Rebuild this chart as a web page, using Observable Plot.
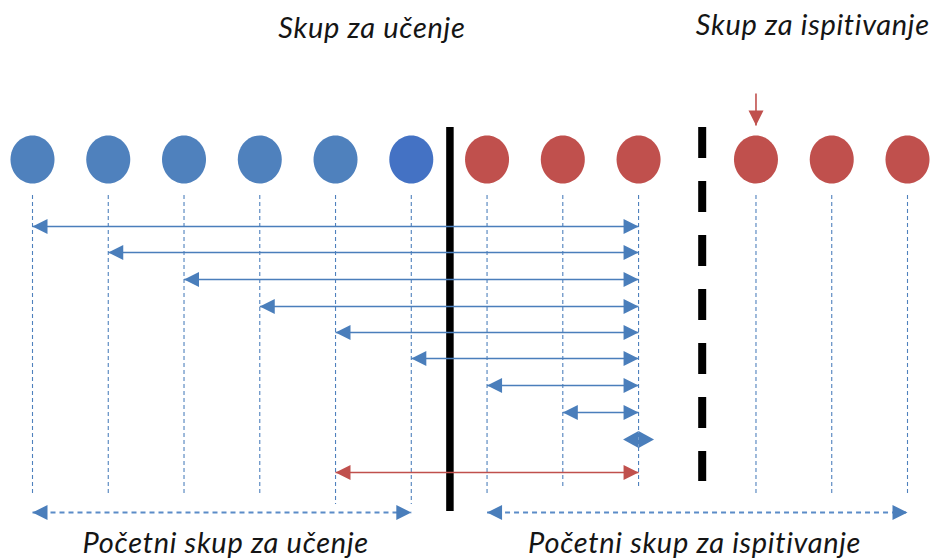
<!DOCTYPE html>
<html>
<head>
<meta charset="utf-8">
<script src="https://cdn.jsdelivr.net/npm/d3@7"></script>
<script src="https://cdn.jsdelivr.net/npm/@observablehq/plot@0.6"></script>
<style>
  html, body { margin: 0; padding: 0; background: #fff; }
  #chart svg { display: block; }
  #chart svg text { letter-spacing: 0.7px; }
</style>
</head>
<body>
<div id="chart"></div>
<script>
// ---- data ----
const slotX        = [0, 1, 2, 3, 4, 5, 6, 7, 8, 9.55, 10.55, 11.55];
const circleColor  = ["#4f81bd","#4f81bd","#4f81bd","#4f81bd","#4f81bd","#4472c4",
                      "#c0504d","#c0504d","#c0504d","#c0504d","#c0504d","#c0504d"];
const circleLevel  = 159;
const guideTop     = 195;
const guideEnd     = [493, 493, 493, 493, 504, 504, 494, 489, 489, 494, 494, 494];

const arrowFrom    = [0, 1, 2, 3, 4, 5, 6, 7, 8, 4];
const arrowTo      = [8, 8, 8, 8, 8, 8, 8, 8, 8, 8];
const arrowLevel   = [226, 252, 279, 306, 332, 358, 385, 412, 439, 472];
const arrowColor   = ["#4a7ebb","#4a7ebb","#4a7ebb","#4a7ebb","#4a7ebb",
                      "#4a7ebb","#4a7ebb","#4a7ebb","#4a7ebb","#c0504d"];

const spanFrom     = [0, 6];
const spanTo       = [5, 11.55];
const spanLevel    = [512, 512];

const dividerSlot  = [5.51, 8.84];
const dividerTop   = [127, 127];
const dividerEnd   = [511, 481];

const pointerSlot  = [9.55];
const pointerFrom  = [93];
const pointerTo    = [125];

const titleText    = ["Skup za učenje", "Skup za ispitivanje"];
const titleSlot    = [4.48, 10.3];
const titleLevel   = [37.5, 34.5];

const footerText   = ["Početni skup za učenje", "Početni skup za ispitivanje"];
const footerSlot   = [2.55, 8.74];
const footerLevel  = [552, 552];

// ---- tables ----
const circles  = slotX.map((x, i) => ({x, color: circleColor[i], y: circleLevel, y1: guideTop, y2: guideEnd[i]}));
const arrows   = arrowFrom.map((f, i) => ({from: slotX[f], to: slotX[arrowTo[i]], y: arrowLevel[i], color: arrowColor[i]}));
const spans    = spanFrom.map((f, i) => ({from: f, to: spanTo[i], y: spanLevel[i]}));
const pointers = pointerSlot.map((x, i) => ({x, y1: pointerFrom[i], y2: pointerTo[i]}));
const titles   = titleText.map((t, i) => ({t, x: titleSlot[i], y: titleLevel[i]}));
const footers  = footerText.map((t, i) => ({t, x: footerSlot[i], y: footerLevel[i]}));

const isZero = d => d.from === d.to;
const notZero = d => d.from !== d.to;

// ---- custom symbols ----
const ellipse = {draw(c) {
  const rx = 22, ry = 24, k = 0.5523;
  c.moveTo(rx, 0);
  c.bezierCurveTo(rx, ry * k, rx * k, ry, 0, ry);
  c.bezierCurveTo(-rx * k, ry, -rx, ry * k, -rx, 0);
  c.bezierCurveTo(-rx, -ry * k, -rx * k, -ry, 0, -ry);
  c.bezierCurveTo(rx * k, -ry, rx, -ry * k, rx, 0);
  c.closePath();
}};
const headRight = {draw(c) { c.moveTo(0, 0); c.lineTo(-15, -7.5); c.lineTo(-15, 7.5); c.closePath(); }};
const headLeft  = {draw(c) { c.moveTo(0, 0); c.lineTo(15, -7.5); c.lineTo(15, 7.5); c.closePath(); }};
const headDown  = {draw(c) { c.moveTo(0, 0); c.lineTo(-7.5, -15); c.lineTo(7.5, -15); c.closePath(); }};
// heads of a zero-length arrow turn outward and meet in a diamond
const diamondLeft  = {draw(c) { c.moveTo(0, -8.5); c.lineTo(-15.5, 0); c.lineTo(0, 8.5); c.closePath(); }};
const diamondRight = {draw(c) { c.moveTo(0, -8.5); c.lineTo(15.5, 0); c.lineTo(0, 8.5); c.closePath(); }};

const font = "Lato, 'Open Sans', sans-serif";

const chart = Plot.plot({
  width: 937,
  height: 559,
  margin: 0,
  x: {domain: [0, 11.55], range: [32, 907], axis: null},
  y: {domain: [0, 559], range: [0, 559], axis: null},
  color: {type: "identity"},
  style: {fontFamily: font, background: "#fff"},
  marks: [
    // vertical dashed guides
    Plot.ruleX(circles, {x: "x", y1: "y1", y2: "y2", stroke: "#4f81bd", strokeWidth: 1.1, strokeDasharray: "4,3"}),
    // dividers
    Plot.ruleX([0], {x: () => dividerSlot[0], y1: () => dividerTop[0], y2: () => dividerEnd[0], stroke: "#000", strokeWidth: 7.5}),
    Plot.ruleX([0], {x: () => dividerSlot[1], y1: () => dividerTop[1], y2: () => dividerEnd[1], stroke: "#000", strokeWidth: 8, strokeDasharray: "31,23"}),
    // circles
    Plot.dot(circles, {x: "x", y: "y", symbol: ellipse, fill: "color", stroke: "none"}),
    // arrows
    Plot.link(arrows, {filter: notZero, x1: "from", x2: "to", y1: "y", y2: "y", stroke: "color", strokeWidth: 1.6}),
    Plot.dot(arrows, {filter: notZero, x: "from", y: "y", symbol: headLeft, fill: "color", stroke: "none"}),
    Plot.dot(arrows, {filter: notZero, x: "to", y: "y", symbol: headRight, fill: "color", stroke: "none"}),
    Plot.dot(arrows, {filter: isZero, x: "from", y: "y", symbol: diamondLeft, fill: "color", stroke: "none"}),
    Plot.dot(arrows, {filter: isZero, x: "to", y: "y", symbol: diamondRight, fill: "color", stroke: "none"}),
    // bottom spans
    Plot.link(spans, {x1: "from", x2: "to", y1: "y", y2: "y", stroke: "#5b8cc8", strokeWidth: 1.8, strokeDasharray: "5,4"}),
    Plot.dot(spans, {x: "from", y: "y", symbol: headLeft, fill: "#4a7ebb", stroke: "none"}),
    Plot.dot(spans, {x: "to", y: "y", symbol: headRight, fill: "#4a7ebb", stroke: "none"}),
    // red pointer
    Plot.link(pointers, {x1: "x", x2: "x", y1: "y1", y2: "y2", stroke: "#c0504d", strokeWidth: 1.6}),
    Plot.dot(pointers, {x: "x", y: "y2", symbol: headDown, fill: "#c0504d", stroke: "none"}),
    // texts
    Plot.text(titles, {x: "x", y: "y", text: "t", fontSize: 29, fontStyle: "italic", fill: "#151515", lineAnchor: "bottom", textAnchor: "middle"}),
    Plot.text(footers, {x: "x", y: "y", text: "t", fontSize: 29, fontStyle: "italic", fill: "#151515", lineAnchor: "bottom", textAnchor: "middle"})
  ]
});
document.getElementById("chart").appendChild(chart);
</script>
</body>
</html>
